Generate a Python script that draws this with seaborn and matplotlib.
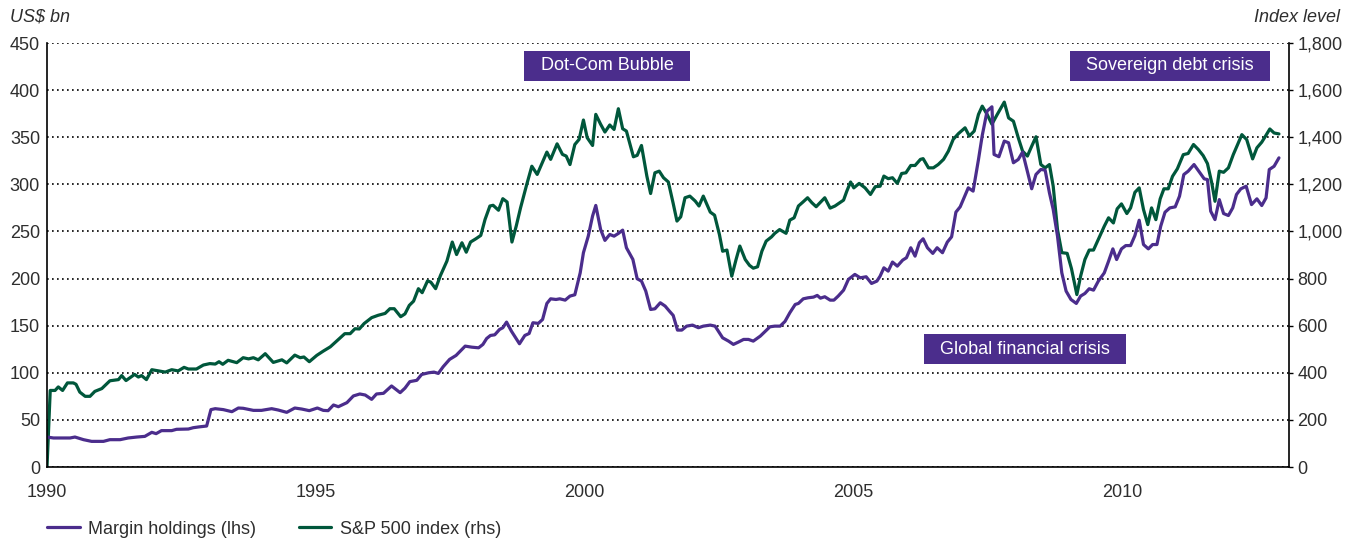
import matplotlib
matplotlib.use("Agg")
import matplotlib.pyplot as plt
import seaborn as sns
import pandas as pd
from matplotlib.ticker import FuncFormatter
from matplotlib.lines import Line2D

# ---------------- data ----------------
margin_years = [
    1990.00, 1990.12, 1990.43, 1990.52, 1990.68, 1990.83, 1991.05, 1991.17, 1991.36, 1991.51,
    1991.67, 1991.82, 1991.95, 1992.03, 1992.13, 1992.32, 1992.41, 1992.63, 1992.72, 1992.82,
    1992.97, 1993.05, 1993.13, 1993.28, 1993.44, 1993.56, 1993.65, 1993.84, 1993.99, 1994.18,
    1994.30, 1994.46, 1994.61, 1994.74, 1994.88, 1995.03, 1995.14, 1995.23, 1995.33, 1995.42,
    1995.58, 1995.70, 1995.82, 1995.92, 1996.04, 1996.13, 1996.26, 1996.41, 1996.57, 1996.66,
    1996.75, 1996.88, 1996.97, 1997.10, 1997.20, 1997.28, 1997.37, 1997.49, 1997.61, 1997.78,
    1997.90, 1998.03, 1998.11, 1998.18, 1998.25, 1998.33, 1998.42, 1998.48, 1998.55, 1998.64,
    1998.79, 1998.89, 1998.97, 1999.04, 1999.14, 1999.22, 1999.30, 1999.37, 1999.47, 1999.54,
    1999.64, 1999.73, 1999.82, 1999.92, 1999.98, 2000.07, 2000.15, 2000.21, 2000.30, 2000.38,
    2000.47, 2000.55, 2000.63, 2000.71, 2000.78, 2000.90, 2000.98, 2001.06, 2001.14, 2001.23,
    2001.31, 2001.41, 2001.50, 2001.58, 2001.65, 2001.73, 2001.81, 2001.90, 2002.01, 2002.12,
    2002.21, 2002.34, 2002.43, 2002.57, 2002.68, 2002.77, 2002.86, 2002.96, 2003.05, 2003.14,
    2003.27, 2003.36, 2003.45, 2003.54, 2003.64, 2003.73, 2003.82, 2003.92, 2003.98, 2004.07,
    2004.16, 2004.26, 2004.33, 2004.39, 2004.47, 2004.57, 2004.64, 2004.72, 2004.82, 2004.91,
    2005.03, 2005.13, 2005.24, 2005.34, 2005.44, 2005.50, 2005.57, 2005.65, 2005.73, 2005.82,
    2005.92, 2005.99, 2006.07, 2006.15, 2006.23, 2006.30, 2006.38, 2006.48, 2006.56, 2006.66,
    2006.75, 2006.83, 2006.91, 2006.99, 2007.06, 2007.14, 2007.23, 2007.33, 2007.40, 2007.49,
    2007.58, 2007.62, 2007.71, 2007.81, 2007.89, 2007.98, 2008.07, 2008.15, 2008.23, 2008.32,
    2008.40, 2008.49, 2008.57, 2008.65, 2008.72, 2008.80, 2008.88, 2008.96, 2009.05, 2009.15,
    2009.23, 2009.31, 2009.39, 2009.47, 2009.56, 2009.67, 2009.75, 2009.83, 2009.90, 2009.99,
    2010.07, 2010.16, 2010.24, 2010.32, 2010.40, 2010.49, 2010.57, 2010.65, 2010.72, 2010.80,
    2010.89, 2010.99, 2011.07, 2011.15, 2011.23, 2011.34, 2011.44, 2011.53, 2011.59, 2011.65,
    2011.73, 2011.81, 2011.89, 2011.98, 2012.06, 2012.13, 2012.21, 2012.31, 2012.41, 2012.51,
    2012.60, 2012.68, 2012.74, 2012.83, 2012.92,
]
margin_values = [
    31.8, 30.8, 30.8, 31.8, 29.0, 27.2, 27.2, 29.0, 29.0, 30.8,
    31.8, 32.5, 36.8, 35.4, 38.6, 38.6, 40.0, 40.3, 41.7, 42.5,
    43.5, 60.9, 61.9, 60.9, 58.7, 62.6, 62.3, 60.1, 60.1, 61.9,
    60.5, 58.0, 62.6, 61.5, 59.8, 62.6, 60.1, 59.8, 65.8, 64.0,
    68.3, 75.4, 77.5, 76.4, 71.8, 77.5, 78.2, 86.0, 78.9, 83.7,
    90.6, 92.0, 98.2, 100.0, 100.7, 99.3, 106.4, 114.2, 118.4, 128.3,
    127.2, 126.5, 130.1, 136.4, 139.6, 140.3, 146.0, 147.8, 153.8, 144.2,
    130.8, 139.6, 141.7, 153.1, 152.4, 156.6, 173.6, 178.5, 177.8, 178.5,
    177.1, 181.4, 182.8, 206.1, 227.4, 245.0, 266.3, 277.6, 252.1, 240.5,
    246.8, 245.0, 247.9, 251.4, 232.7, 220.3, 199.8, 197.3, 186.7, 167.2,
    167.9, 174.3, 170.8, 165.4, 160.9, 145.3, 145.3, 149.5, 150.6, 147.8,
    149.5, 150.6, 149.5, 137.1, 133.6, 130.1, 132.5, 135.4, 135.4, 133.6,
    138.9, 143.9, 148.8, 149.5, 149.5, 154.5, 163.7, 172.5, 173.6, 178.5,
    179.6, 180.3, 182.1, 179.2, 180.7, 177.1, 177.1, 181.4, 187.7, 199.1,
    204.4, 200.8, 201.9, 194.8, 197.3, 202.6, 211.4, 207.9, 217.5, 213.2,
    219.6, 222.1, 232.7, 223.8, 238.0, 242.2, 232.7, 226.7, 232.7, 227.4,
    238.7, 244.3, 270.5, 276.2, 285.7, 296.3, 292.8, 326.4, 351.9, 377.7,
    382.3, 331.7, 329.3, 345.9, 344.1, 322.9, 326.4, 334.2, 315.8, 295.3,
    310.5, 315.8, 315.1, 291.0, 273.4, 245.0, 206.1, 186.7, 177.8, 173.6,
    181.4, 184.2, 189.2, 187.7, 197.3, 206.0, 218.4, 231.5, 220.2, 231.5,
    235.0, 235.0, 245.6, 261.9, 236.1, 231.5, 236.1, 236.1, 255.5, 270.4,
    275.0, 276.1, 287.4, 310.4, 313.9, 321.0, 312.9, 305.8, 305.1, 271.5,
    262.6, 283.8, 269.0, 266.9, 275.0, 289.2, 295.2, 298.0, 278.5, 284.6,
    277.5, 285.6, 315.7, 319.2, 328.1,
]

sp_years = [
    1990.00, 1990.06, 1990.15, 1990.21, 1990.29, 1990.38, 1990.49, 1990.54, 1990.61, 1990.71,
    1990.80, 1990.89, 1991.02, 1991.17, 1991.33, 1991.39, 1991.47, 1991.63, 1991.70, 1991.76,
    1991.85, 1991.95, 1992.07, 1992.20, 1992.32, 1992.44, 1992.55, 1992.63, 1992.78, 1992.91,
    1993.03, 1993.13, 1993.20, 1993.27, 1993.37, 1993.53, 1993.65, 1993.75, 1993.84, 1993.93,
    1994.06, 1994.21, 1994.37, 1994.46, 1994.61, 1994.71, 1994.78, 1994.88, 1995.02, 1995.14,
    1995.27, 1995.39, 1995.54, 1995.64, 1995.73, 1995.81, 1995.90, 1996.04, 1996.16, 1996.29,
    1996.38, 1996.46, 1996.58, 1996.66, 1996.74, 1996.82, 1996.91, 1996.98, 1997.08, 1997.14,
    1997.23, 1997.32, 1997.44, 1997.54, 1997.62, 1997.72, 1997.80, 1997.88, 1997.98, 1998.07,
    1998.15, 1998.24, 1998.30, 1998.40, 1998.48, 1998.56, 1998.65, 1998.73, 1998.81, 1998.92,
    1999.02, 1999.12, 1999.30, 1999.37, 1999.49, 1999.59, 1999.66, 1999.73, 1999.82, 1999.90,
    1999.98, 2000.05, 2000.15, 2000.21, 2000.30, 2000.38, 2000.47, 2000.55, 2000.63, 2000.71,
    2000.78, 2000.91, 2000.98, 2001.06, 2001.16, 2001.23, 2001.31, 2001.39, 2001.47, 2001.56,
    2001.65, 2001.72, 2001.79, 2001.87, 2001.96, 2002.06, 2002.13, 2002.21, 2002.34, 2002.42,
    2002.51, 2002.57, 2002.65, 2002.74, 2002.82, 2002.89, 2002.99, 2003.07, 2003.14, 2003.22,
    2003.30, 2003.38, 2003.48, 2003.54, 2003.63, 2003.75, 2003.82, 2003.90, 2003.98, 2004.06,
    2004.15, 2004.23, 2004.31, 2004.39, 2004.47, 2004.57, 2004.66, 2004.82, 2004.88, 2004.95,
    2005.01, 2005.11, 2005.22, 2005.32, 2005.41, 2005.50, 2005.57, 2005.65, 2005.73, 2005.82,
    2005.90, 2005.98, 2006.07, 2006.15, 2006.25, 2006.30, 2006.40, 2006.49, 2006.58, 2006.68,
    2006.77, 2006.86, 2006.96, 2007.08, 2007.16, 2007.25, 2007.33, 2007.40, 2007.49, 2007.58,
    2007.67, 2007.81, 2007.89, 2007.98, 2008.07, 2008.15, 2008.24, 2008.32, 2008.40, 2008.49,
    2008.57, 2008.65, 2008.72, 2008.80, 2008.88, 2008.98, 2009.06, 2009.16, 2009.23, 2009.31,
    2009.39, 2009.47, 2009.56, 2009.67, 2009.75, 2009.84, 2009.91, 2009.99, 2010.09, 2010.16,
    2010.24, 2010.32, 2010.40, 2010.48, 2010.55, 2010.63, 2010.71, 2010.78, 2010.86, 2010.94,
    2011.03, 2011.14, 2011.23, 2011.33, 2011.42, 2011.51, 2011.59, 2011.67, 2011.73, 2011.81,
    2011.89, 2011.98, 2012.07, 2012.15, 2012.23, 2012.32, 2012.43, 2012.51, 2012.60, 2012.66,
    2012.75, 2012.83, 2012.92,
]
sp_values = [
    0, 325, 325, 340, 325, 357, 357, 351, 318, 300,
    300, 321, 333, 366, 371, 388, 367, 393, 382, 388,
    371, 413, 408, 403, 413, 408, 423, 416, 416, 433,
    439, 437, 447, 436, 453, 443, 464, 459, 464, 455,
    481, 444, 455, 442, 475, 464, 467, 447, 474, 492,
    510, 535, 566, 566, 587, 586, 609, 634, 644, 652,
    672, 672, 638, 650, 686, 704, 757, 740, 790, 785,
    757, 813, 874, 955, 902, 952, 912, 955, 969, 983,
    1051, 1108, 1111, 1090, 1139, 1125, 955, 1023, 1100, 1195,
    1277, 1242, 1337, 1306, 1372, 1327, 1320, 1284, 1369, 1391,
    1473, 1398, 1365, 1497, 1455, 1422, 1452, 1433, 1521, 1436,
    1426, 1317, 1323, 1365, 1235, 1161, 1249, 1256, 1228, 1210,
    1119, 1044, 1062, 1143, 1150, 1129, 1108, 1150, 1082, 1069,
    987, 916, 921, 810, 881, 938, 881, 856, 844, 850,
    916, 959, 977, 992, 1008, 992, 1048, 1058, 1108, 1124,
    1143, 1122, 1105, 1124, 1143, 1099, 1108, 1133, 1171, 1210,
    1185, 1204, 1185, 1157, 1190, 1192, 1235, 1224, 1228, 1204,
    1246, 1249, 1280, 1280, 1306, 1309, 1270, 1270, 1284, 1306,
    1341, 1391, 1416, 1440, 1405, 1426, 1497, 1532, 1497, 1455,
    1493, 1549, 1482, 1468, 1398, 1341, 1320, 1362, 1402, 1284,
    1270, 1284, 1192, 1008, 910, 907, 842, 732, 810, 881,
    921, 921, 966, 1022, 1058, 1036, 1096, 1117, 1076, 1100,
    1166, 1185, 1093, 1029, 1100, 1050, 1138, 1181, 1181, 1234,
    1266, 1326, 1331, 1369, 1348, 1322, 1288, 1206, 1128, 1256,
    1251, 1270, 1326, 1369, 1411, 1390, 1308, 1355, 1379, 1401,
    1435, 1418, 1414,
]

x_ticks = [1990, 1995, 2000, 2005, 2010]
left_ticks = [0, 50, 100, 150, 200, 250, 300, 350, 400, 450]
right_ticks = [0, 200, 400, 600, 800, 1000, 1200, 1400, 1600, 1800]
series_labels = ["Margin holdings (lhs)", "S&P 500 index (rhs)"]
left_unit = "US$ bn"
right_unit = "Index level"
event_labels = ["Dot-Com Bubble", "Sovereign debt crisis", "Global financial crisis"]
event_x = [2000.42, 2010.89, 2008.20]
event_y = [425.6, 425.6, 125.2]

# ---------------- style ----------------
PURPLE = "#4b2d8c"
GREEN = "#00573b"
TEXT = "#2e2e2e"
LW = 2.3
FS = 13

sns.set_style("white")
plt.rcParams["font.family"] = ["Liberation Sans", "DejaVu Sans"]
plt.rcParams["font.size"] = FS

margin_df = pd.DataFrame({"year": margin_years, "value": margin_values})
sp_df = pd.DataFrame({"year": sp_years, "value": sp_values})

W, H = 1359, 543
fig = plt.figure(figsize=(W / 100, H / 100), dpi=100)
ax = fig.add_axes([47 / W, 76 / H, 1242 / W, 424 / H])
ax2 = ax.twinx()

sns.lineplot(data=sp_df, x="year", y="value", ax=ax2, color=GREEN, lw=LW)
sns.lineplot(data=margin_df, x="year", y="value", ax=ax, color=PURPLE, lw=LW)

# purple axis above the green one, grid lives on the (lower) right axis
ax.set_zorder(ax2.get_zorder() + 1)
ax.patch.set_visible(False)

ax.set_xlim(1990, 2013.107)
ax.set_ylim(0, 450)
ax2.set_ylim(0, 1800)
ax.set_xticks(x_ticks)
ax.set_xticklabels([str(t) for t in x_ticks])
ax.set_yticks(left_ticks)
ax2.set_yticks(right_ticks)
ax2.yaxis.set_major_formatter(FuncFormatter(lambda v, p: f"{int(v):,}"))

ax.grid(False)
ax2.grid(False)
ax2.yaxis.grid(True, linestyle=(0, (1, 2)), color="black", lw=1.2)
ax2.set_axisbelow(True)

for a in (ax, ax2):
    a.set_xlabel("")
    a.set_ylabel("")
    for s in a.spines.values():
        s.set_visible(False)
ax.spines["left"].set_visible(True)
ax.spines["bottom"].set_visible(True)
ax2.spines["right"].set_visible(True)
for s in (ax.spines["left"], ax.spines["bottom"], ax2.spines["right"]):
    s.set_color("black")
    s.set_linewidth(1.2)

ax.tick_params(axis="y", length=0, pad=5, labelsize=FS, labelcolor=TEXT)
ax.tick_params(axis="x", length=5, width=1.1, direction="out", pad=7,
               labelsize=FS, labelcolor=TEXT, color="black")
ax2.tick_params(axis="y", length=3, width=1, pad=3, labelsize=FS,
                labelcolor=TEXT, color="black")

fig.text(10 / W, 1 - 17 / H, left_unit, style="italic", fontsize=FS,
         color=TEXT, va="center", ha="left")
fig.text(1340 / W, 1 - 17 / H, right_unit, style="italic", fontsize=FS,
         color=TEXT, va="center", ha="right")

for lab, ex, ey in zip(event_labels, event_x, event_y):
    ax.text(ex, ey, lab, ha="center", va="center", fontsize=FS,
            color="white", zorder=10,
            bbox=dict(boxstyle="square,pad=0.9", mutation_aspect=0.42,
                      facecolor=PURPLE, edgecolor="none"))

handles = [Line2D([0], [0], color=PURPLE, lw=LW), Line2D([0], [0], color=GREEN, lw=LW)]
fig.legend(handles, series_labels, loc="center left",
           bbox_to_anchor=(47 / W, 1 - 529 / H), ncol=2, frameon=False,
           borderaxespad=0, borderpad=0, handlelength=1.8, handletextpad=0.45,
           columnspacing=2.4, fontsize=FS, labelcolor=TEXT)

fig.savefig("out.png", dpi=100)
